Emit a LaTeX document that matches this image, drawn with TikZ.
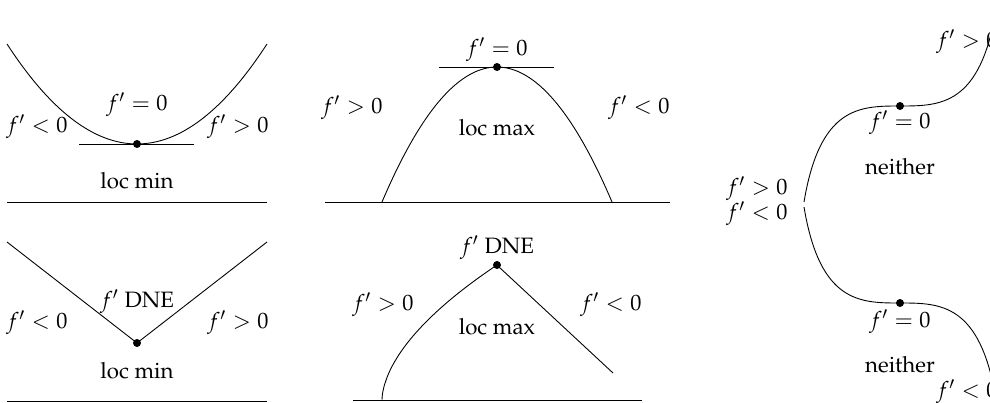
\documentclass[tikz,border=0pt]{standalone}
\usepackage[T1]{fontenc}
\usepackage{mathpazo}
\usepackage{tikz}

\tikzset{
  pt/.style={circle, fill, inner sep=0pt, minimum size=3.6pt},
  lbl/.style={inner sep=0pt}
}

\begin{document}
\begin{tikzpicture}[x=0.45pt, y=-0.45pt, every node/.style={lbl}]
        \useasboundingbox (0,0) rectangle (990,403);
        % smooth local minimum
        \draw (7,44) .. controls (93.7,177.3) and (180.3,177.3) .. (267,44);
        \draw (79,144) -- (194,144);
        \draw (7,202) -- (267,202);
        \node[pt] (mina) at (137,144) {};
        \node (minadf) at (137,105) {$f'=0$};
        \node (minal) at (37,127) {$f'<0$};
        \node (minar) at (238,127) {$f'>0$};
        \node (minatxt) at (137,181) {loc min};
        % smooth local maximum
        \draw (382,202) .. controls (458.7,22) and (535.3,22) .. (612,202);
        \draw (439,67) -- (554,67);
        \draw (325,202) -- (670,202);
        \node[pt] (maxa) at (497,67) {};
        \node (maxadf) at (497,50) {$f'=0$};
        \node (maxal) at (352,108) {$f'>0$};
        \node (maxar) at (639,108) {$f'<0$};
        \node (maxatxt) at (497,128) {loc max};
        % corner local minimum
        \draw (7,242) -- (137,343) -- (267,242);
        \draw (7,401) -- (267,401);
        \node[pt] (minb) at (137,343) {};
        \node (minbdf) at (137,302) {$f'$ DNE};
        \node (minbl) at (37,323) {$f'<0$};
        \node (minbr) at (238,323) {$f'>0$};
        \node (minbtxt) at (137,371) {loc min};
        % corner local maximum
        \draw plot[domain=0.002:1, samples=60] ({382+115*\x^1.754},{400-135*\x}) -- (613,373);
        \draw (353,400) -- (642,400);
        \node[pt] (maxb) at (497,265) {};
        \node (maxbdf) at (497,248) {$f'$ DNE};
        \node (maxbl) at (383,305) {$f'>0$};
        \node (maxbr) at (611,305) {$f'<0$};
        \node (maxbtxt) at (497,327) {loc max};
        % flat points, neither
        \draw (804,202) .. controls (836,10) and (964,202) .. (996,10);
        \draw (804,207) .. controls (836,399) and (964,207) .. (996,399);
        \node[pt] (flata) at (900,106) {};
        \node[pt] (flatb) at (900,303) {};
        \node (flatal) at (757,189) {$f'>0$};
        \node (flatbl) at (757,214) {$f'<0$};
        \node (flatadf) at (900,123) {$f'=0$};
        \node (flatatxt) at (900,167) {neither};
        \node (flatbdf) at (900,322) {$f'=0$};
        \node (flatbtxt) at (900,365) {neither};
        \node (flatar) at (967,42) {$f'>0$};
        \node (flatbr) at (967,392) {$f'<0$};
      \end{tikzpicture}
\end{document}
